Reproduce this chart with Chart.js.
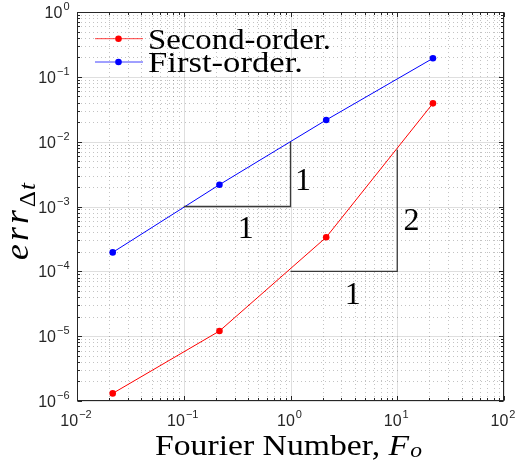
<!DOCTYPE html>
<html><head><meta charset="utf-8">
<script src="https://cdn.jsdelivr.net/npm/chart.js@4/dist/chart.umd.min.js"></script>
<style>html,body{margin:0;padding:0;background:#fff;}canvas{display:block;}</style>
</head><body>
<canvas id="c" width="516" height="464"></canvas>
<script>
// ---- data ----
const fourierNumbers = [0.0216, 0.216, 2.16, 21.6];
const secondOrderErr = [1.31e-6, 1.2e-5, 3.35e-4, 0.039];
const firstOrderErr = [1.96e-4, 2.17e-3, 2.16e-2, 0.193];
const seriesNames = ['Second-order.', 'First-order.'];
const xTickExponents = [-2, -1, 0, 1, 2];
const yTickExponents = [-6, -5, -4, -3, -2, -1, 0];
const slopeTriangleFirstX = [0.1, 1, 1];
const slopeTriangleFirstY = [1e-3, 1e-3, 1e-2];
const slopeTriangleSecondX = [1, 10, 10];
const slopeTriangleSecondY = [1e-4, 1e-4, 7.5e-3];
const slopeLabelText = ['1', '1', '2', '1'];
const slopeLabelX = [0.38, 1.31, 13.6, 3.83];
const slopeLabelY = [4.83e-4, 2.65e-3, 6.41e-4, 4.68e-5];

const pts = (xs, ys) => xs.map((x, i) => ({x, y: ys[i]}));
const RED = '#ff0000', BLUE = '#0000ff', AX = '#262626', TRI = '#3a3a3a';
const SERIF = '"Liberation Serif", "Times New Roman", serif';
const SANS = '"Liberation Sans", Arial, Helvetica, sans-serif';

function runsWidth(ctx, runs) {
  let w = 0;
  for (const r of runs) {
    ctx.font = r.font; ctx.letterSpacing = (r.ls || 0) + 'px';
    w += ctx.measureText(r.t).width + (r.gap || 0);
  }
  ctx.letterSpacing = '0px';
  return w;
}
function drawRuns(ctx, runs, x, y, sx) {
  ctx.save();
  ctx.translate(x, y);
  ctx.scale(sx, 1);
  let cx = 0;
  for (const r of runs) {
    ctx.font = r.font; ctx.letterSpacing = (r.ls || 0) + 'px';
    ctx.fillText(r.t, cx, r.dy || 0);
    cx += ctx.measureText(r.t).width + (r.gap || 0);
  }
  ctx.letterSpacing = '0px';
  ctx.restore();
}
function powRuns(exp) {
  return [
    {t: '10', font: '16px ' + SANS, gap: 1},
    {t: (exp < 0 ? '\u2212' : '') + Math.abs(exp), font: '11px ' + SANS, dy: -8}
  ];
}

const matlabPlugin = {
  id: 'matlabLook',
  beforeDatasetsDraw(chart) {
    const {ctx, chartArea: a, scales: {x, y}} = chart;
    ctx.save();
    ctx.lineWidth = 1;
    // minor grid (dotted)
    ctx.strokeStyle = 'rgba(38,38,38,0.28)';
    ctx.setLineDash([1, 3]);
    ctx.beginPath();
    for (let d = xTickExponents[0]; d < xTickExponents[xTickExponents.length - 1]; d++) {
      for (let m = 2; m <= 9; m++) {
        const px = Math.round(x.getPixelForValue(m * Math.pow(10, d))) + 0.5;
        ctx.moveTo(px, a.top); ctx.lineTo(px, a.bottom);
      }
    }
    for (let d = yTickExponents[0]; d < yTickExponents[yTickExponents.length - 1]; d++) {
      for (let m = 2; m <= 9; m++) {
        const py = Math.round(y.getPixelForValue(m * Math.pow(10, d))) + 0.5;
        ctx.moveTo(a.left, py); ctx.lineTo(a.right, py);
      }
    }
    ctx.stroke();
    // major grid (solid)
    ctx.setLineDash([]);
    ctx.strokeStyle = 'rgba(38,38,38,0.15)';
    ctx.beginPath();
    for (const e of xTickExponents) {
      const px = Math.round(x.getPixelForValue(Math.pow(10, e))) + 0.5;
      ctx.moveTo(px, a.top); ctx.lineTo(px, a.bottom);
    }
    for (const e of yTickExponents) {
      const py = Math.round(y.getPixelForValue(Math.pow(10, e))) + 0.5;
      ctx.moveTo(a.left, py); ctx.lineTo(a.right, py);
    }
    ctx.stroke();
    ctx.restore();
  },
  afterDatasetsDraw(chart) {
    const {ctx, chartArea: a, scales: {x, y}} = chart;
    ctx.save();
    const L = Math.round(a.left) + 0.5, R = Math.round(a.right) - 0.5;
    const T = Math.round(a.top) + 0.5, B = Math.round(a.bottom) - 0.5;
    // box
    ctx.strokeStyle = AX; ctx.lineWidth = 1;
    ctx.strokeRect(L, T, R - L, B - T);
    // tick marks inside on all four sides
    ctx.beginPath();
    const xt = (v, len) => {
      const px = Math.round(x.getPixelForValue(v)) + 0.5;
      ctx.moveTo(px, B); ctx.lineTo(px, B - len);
      ctx.moveTo(px, T); ctx.lineTo(px, T + len);
    };
    const yt = (v, len) => {
      const py = Math.round(y.getPixelForValue(v)) + 0.5;
      ctx.moveTo(L, py); ctx.lineTo(L + len, py);
      ctx.moveTo(R, py); ctx.lineTo(R - len, py);
    };
    for (const e of xTickExponents) xt(Math.pow(10, e), 4.5);
    for (const e of yTickExponents) yt(Math.pow(10, e), 4.5);
    for (let d = xTickExponents[0]; d < xTickExponents[xTickExponents.length - 1]; d++)
      for (let m = 2; m <= 9; m++) xt(m * Math.pow(10, d), 2.5);
    for (let d = yTickExponents[0]; d < yTickExponents[yTickExponents.length - 1]; d++)
      for (let m = 2; m <= 9; m++) yt(m * Math.pow(10, d), 2.5);
    ctx.stroke();

    // tick labels
    ctx.fillStyle = AX;
    ctx.textBaseline = 'alphabetic';
    ctx.textAlign = 'left';
    for (const e of xTickExponents) {
      const runs = powRuns(e);
      const w = runsWidth(ctx, runs);
      const px = x.getPixelForValue(Math.pow(10, e));
      drawRuns(ctx, runs, px - w / 2 - 1, B + 25.5, 1);
    }
    for (const e of yTickExponents) {
      const runs = powRuns(e);
      const w = runsWidth(ctx, runs);
      const py = y.getPixelForValue(Math.pow(10, e));
      drawRuns(ctx, runs, L - 8 - w, py + 6, 1);
    }

    // slope triangle labels
    ctx.fillStyle = '#000';
    ctx.font = '32px ' + SERIF;
    ctx.textAlign = 'center';
    slopeLabelText.forEach((t, i) => {
      ctx.fillText(t, x.getPixelForValue(slopeLabelX[i]), y.getPixelForValue(slopeLabelY[i]) + 11);
    });
    ctx.textAlign = 'left';

    // x axis title
    const xRuns = [
      {t: 'Fourier Number, ', font: '30px ' + SERIF},
      {t: 'F', font: 'italic 30px ' + SERIF, gap: 1},
      {t: 'o', font: 'italic 21px ' + SERIF, dy: 2}
    ];
    const xw = runsWidth(ctx, xRuns);
    drawRuns(ctx, xRuns, 155, 455, 267 / xw);

    // y axis title (rotated), subscript lowered
    const yRuns = [
      {t: 'err', font: 'italic 34px ' + SERIF, ls: 3, gap: 0},
      {t: '\u0394', font: '24px ' + SERIF, dy: 7, gap: 1},
      {t: 't', font: 'italic 24px ' + SERIF, dy: 7}
    ];
    const yw = runsWidth(ctx, yRuns);
    ctx.save();
    ctx.translate(28, 260);
    ctx.rotate(-Math.PI / 2);
    drawRuns(ctx, yRuns, 0, 0, Math.min(1.08, 77 / yw));
    ctx.restore();

    // legend
    const legendRows = [
      {name: seriesNames[0], color: RED, ly: 38.7, by: 48.7, w: 183},
      {name: seriesNames[1], color: BLUE, ly: 62, by: 71.7, w: 155}
    ];
    for (const r of legendRows) {
      ctx.strokeStyle = r.color; ctx.globalAlpha = 0.75; ctx.lineWidth = 1;
      ctx.beginPath(); ctx.moveTo(95, r.ly); ctx.lineTo(143, r.ly); ctx.stroke();
      ctx.globalAlpha = 1;
      ctx.fillStyle = r.color;
      ctx.beginPath(); ctx.arc(118.5, r.ly, 3.3, 0, Math.PI * 2); ctx.fill();
      ctx.fillStyle = '#000';
      const runs = [{t: r.name, font: '30px ' + SERIF}];
      const w = runsWidth(ctx, runs);
      drawRuns(ctx, runs, 148, r.by, r.w / w);
    }
    ctx.restore();
  }
};

new Chart(document.getElementById('c'), {
  type: 'scatter',
  data: {
    datasets: [
      {label: 'slope1', data: pts(slopeTriangleFirstX, slopeTriangleFirstY), showLine: true,
       borderColor: TRI, borderWidth: 1.3, pointRadius: 0, fill: false, tension: 0},
      {label: 'slope2', data: pts(slopeTriangleSecondX, slopeTriangleSecondY), showLine: true,
       borderColor: TRI, borderWidth: 1.3, pointRadius: 0, fill: false, tension: 0},
      {label: seriesNames[0], data: pts(fourierNumbers, secondOrderErr), showLine: true,
       borderColor: RED, backgroundColor: RED, borderWidth: 1, pointRadius: 3.3,
       pointBorderWidth: 0, pointBackgroundColor: RED, tension: 0},
      {label: seriesNames[1], data: pts(fourierNumbers, firstOrderErr), showLine: true,
       borderColor: BLUE, backgroundColor: BLUE, borderWidth: 1, pointRadius: 3.3,
       pointBorderWidth: 0, pointBackgroundColor: BLUE, tension: 0}
    ]
  },
  options: {
    responsive: false,
    animation: false,
    devicePixelRatio: 1,
    layout: {padding: {left: 77, right: 12, top: 12, bottom: 63}},
    plugins: {legend: {display: false}, tooltip: {enabled: false}},
    scales: {
      x: {type: 'logarithmic', min: 1e-2, max: 1e2, display: false},
      y: {type: 'logarithmic', min: 1e-6, max: 1e0, display: false}
    }
  },
  plugins: [matlabPlugin]
});
</script>
</body></html>
